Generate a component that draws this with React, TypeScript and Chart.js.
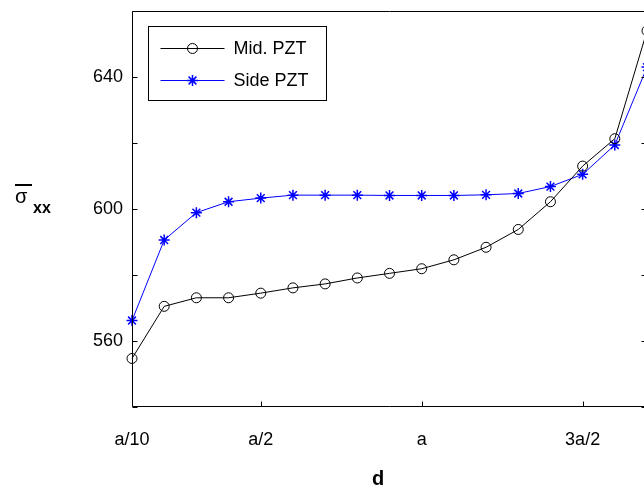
import React, { useEffect, useRef } from 'react';
import { Chart, registerables } from 'chart.js';

Chart.register(...registerables);

const xPositions = [0.1, 0.2, 0.3, 0.4, 0.5, 0.6, 0.7, 0.8, 0.9, 1.0, 1.1, 1.2, 1.3, 1.4, 1.5, 1.6, 1.7];
const midPZT = [554.7, 570.5, 573.1, 573.1, 574.5, 576.1, 577.3, 579.1, 580.5, 581.9, 584.6, 588.4, 593.8, 602.2, 613.0, 621.3, 654.0];
const sidePZT = [566.2, 590.6, 598.9, 602.2, 603.3, 604.2, 604.2, 604.2, 604.1, 604.1, 604.1, 604.3, 604.7, 606.8, 610.5, 619.4, 643.0];
const xTickValues = [0.1, 0.5, 1.0, 1.5];
const xTickLabels = ['a/10', 'a/2', 'a', '3a/2'];
const yMinorTicks = [540, 560, 580, 600, 620, 640, 660];
const yLabelValues = [560, 600, 640];
const seriesNames = ['Mid. PZT', 'Side PZT'];
const xTitle = 'd';

const FONT = '"Liberation Sans", Arial, Helvetica, sans-serif';

export default function App() {
  const ref = useRef<HTMLCanvasElement>(null);

  useEffect(() => {
    const canvas = ref.current!;
    const framePlugin = {
      id: 'matlabFrame',
      afterDatasetsDraw(chart: any) {
        const { ctx, chartArea, scales } = chart;
        const L = Math.round(chartArea.left) + 0.5;
        const R = Math.round(chartArea.right) - 0.5;
        const T = Math.round(chartArea.top) + 0.5;
        const B = Math.round(chartArea.bottom) - 0.5;
        ctx.save();
        ctx.strokeStyle = '#000';
        ctx.lineWidth = 1;
        ctx.beginPath();
        ctx.rect(L, T, R - L, B - T);
        for (const v of yMinorTicks) {
          const y = Math.round(scales.y.getPixelForValue(v)) + 0.5;
          ctx.moveTo(L, y); ctx.lineTo(L + 5, y);
          ctx.moveTo(R, y); ctx.lineTo(R - 5, y);
        }
        for (const v of xTickValues) {
          const x = Math.round(scales.x.getPixelForValue(v)) + 0.5;
          ctx.moveTo(x, B); ctx.lineTo(x, B - 5);
        }
        ctx.stroke();

        // legend
        const bx = L + 16, by = T + 15, bw = 178, bh = 74;
        ctx.fillStyle = '#fff';
        ctx.fillRect(bx, by, bw, bh);
        ctx.strokeRect(bx, by, bw, bh);
        const rows = [by + 21, by + 53];
        chart.data.datasets.forEach((ds: any, i: number) => {
          const y = Math.round(rows[i]) + 0.5;
          ctx.strokeStyle = ds.borderColor;
          ctx.lineWidth = 1;
          ctx.beginPath();
          ctx.moveTo(bx + 12, y); ctx.lineTo(bx + 76, y);
          ctx.stroke();
          const mx = bx + 44;
          if (i === 0) {
            ctx.beginPath();
            ctx.arc(mx, y, 5, 0, Math.PI * 2);
            ctx.stroke();
          } else {
            ctx.lineWidth = 1.5;
            ctx.beginPath();
            const r = 5.5;
            for (let k = 0; k < 4; k++) {
              const a = (k * Math.PI) / 4;
              ctx.moveTo(mx - r * Math.cos(a), y - r * Math.sin(a));
              ctx.lineTo(mx + r * Math.cos(a), y + r * Math.sin(a));
            }
            ctx.stroke();
          }
          ctx.fillStyle = '#000';
          ctx.font = `18px ${FONT}`;
          ctx.textAlign = 'left';
          ctx.textBaseline = 'middle';
          ctx.fillText(seriesNames[i], bx + 85, y + 1);
        });

        // y title: sigma with overline and subscript xx
        ctx.fillStyle = '#000';
        ctx.textBaseline = 'alphabetic';
        ctx.textAlign = 'left';
        ctx.font = `20px ${FONT}`;
        ctx.fillText('σ', 15, 203);
        ctx.fillRect(15, 184, 17, 2);
        ctx.font = `bold 16px ${FONT}`;
        ctx.fillText('xx', 33, 213);

        // x title
        ctx.font = `bold 20px ${FONT}`;
        ctx.textAlign = 'center';
        ctx.fillText(xTitle, 378, 485);
        ctx.restore();
      },
    };

    const chart = new Chart(canvas, {
      type: 'line',
      data: {
        datasets: [
          {
            label: seriesNames[0],
            data: xPositions.map((x, i) => ({ x, y: midPZT[i] })),
            borderColor: '#000',
            borderWidth: 1,
            pointStyle: 'circle',
            pointRadius: 5,
            pointBorderWidth: 1,
            pointBorderColor: '#000',
            pointBackgroundColor: 'rgba(0,0,0,0)',
            fill: false,
            tension: 0,
            clip: false as any,
          },
          {
            label: seriesNames[1],
            data: xPositions.map((x, i) => ({ x, y: sidePZT[i] })),
            borderColor: '#0000ff',
            borderWidth: 1,
            pointStyle: 'star',
            pointRadius: 5.5,
            pointBorderWidth: 1.5,
            pointBorderColor: '#0000ff',
            pointBackgroundColor: '#0000ff',
            fill: false,
            tension: 0,
            clip: false as any,
          },
        ],
      },
      options: {
        responsive: false,
        animation: false,
        layout: { padding: { left: 0, top: 11, right: 13, bottom: 0 } },
        plugins: { legend: { display: false }, tooltip: { enabled: false } },
        scales: {
          x: {
            type: 'linear',
            min: 0.1,
            max: 1.7,
            grid: { display: false, drawTicks: false },
            border: { display: false },
            afterBuildTicks: (s: any) => { s.ticks = xTickValues.map((v) => ({ value: v })); },
            afterFit: (s: any) => { s.height = 82; s.paddingLeft = 0; s.paddingRight = 0; },
            ticks: {
              autoSkip: false,
              maxRotation: 0,
              padding: 22,
              color: '#000',
              font: { family: FONT, size: 18 },
              callback: (_v: any, i: number) => xTickLabels[i],
            },
          },
          y: {
            type: 'linear',
            min: 540,
            max: 660,
            grid: { display: false, drawTicks: false },
            border: { display: false },
            afterBuildTicks: (s: any) => { s.ticks = yLabelValues.map((v) => ({ value: v })); },
            afterFit: (s: any) => { s.width = 132; s.paddingTop = 0; s.paddingBottom = 0; },
            ticks: {
              autoSkip: false,
              padding: 9,
              color: '#000',
              font: { family: FONT, size: 18 },
              callback: (v: any) => String(v),
            },
          },
        },
      },
      plugins: [framePlugin],
    });
    return () => chart.destroy();
  }, []);

  return (
    <div style={{ position: 'fixed', left: 0, top: 0, width: 644, height: 489, overflow: 'hidden', background: '#fff' }}>
      <canvas ref={ref} width={660} height={489} style={{ width: 660, height: 489, display: 'block' }} />
    </div>
  );
}
